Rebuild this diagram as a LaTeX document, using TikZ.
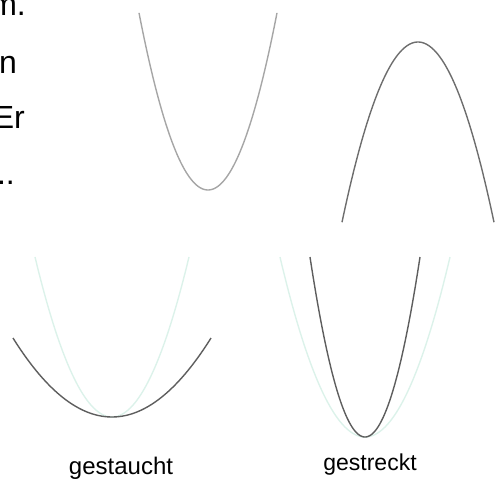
\documentclass[tikz,border=0pt]{standalone}
\usepackage{fontspec}
\setmainfont{Liberation Sans}
\usepackage{tikz}
\usetikzlibrary{positioning}
\definecolor{ink}{HTML}{000000}
\definecolor{curvelight}{HTML}{A6A6A6}
\definecolor{curvemid}{HTML}{6E6E6E}
\definecolor{curvedark}{HTML}{5E5E5E}
\definecolor{ghost}{HTML}{DCF2EA}
\begin{document}
\begin{tikzpicture}[x=1pt,y=-1pt,font=\fontsize{32}{36}\selectfont,
    txt/.style={text=ink,inner sep=0pt,anchor=base east},
    lbl/.style={text=ink,inner sep=0pt,anchor=base},
    curve/.style={line width=1.4pt,line join=round}]
    \useasboundingbox (0,0) rectangle (501,484);
    \clip (0,0) rectangle (501,484);
    % cut text on the left
    \node[txt] (l1) at (26,16){m.}; \node[txt] (l2) at (17,74){n};
    \node[txt] (l3) at (25,129){Er}; \node[txt] (l4) at (15,185){...};
    % top: normal and opened downwards
    \draw[curve,curvelight] plot[domain=139:277,samples=80] (\x,{190-0.0372*(\x-208)^2});
    \draw[curve,curvemid] plot[domain=342:494,samples=80] (\x,{42+0.0312*(\x-418)^2});
    % bottom: shadow of the normal one and the changed one
    \draw[curve,ghost] plot[domain=35:189,samples=80] (\x,{417-0.027*(\x-112)^2});
    \draw[curve,curvedark] plot[domain=13:211,samples=80] (\x,{417-0.00806*(\x-112)^2});
    \draw[curve,ghost] plot[domain=280:450,samples=80] (\x,{437-0.0249*(\x-365)^2});
    \draw[curve,curvedark] plot[domain=310:420,samples=80] (\x,{437-0.0595*(\x-365)^2});
    \node[lbl,font=\fontsize{24}{28}\selectfont] (gst) at (121,474){gestaucht};
    \node[lbl,font=\fontsize{23}{27}\selectfont] (gsr) at (370,470){gestreckt};
  \end{tikzpicture}
\end{document}
